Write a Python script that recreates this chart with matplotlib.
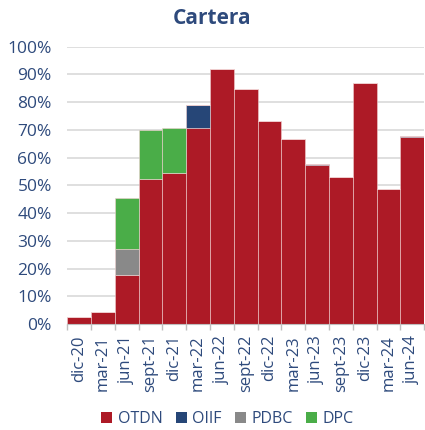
import matplotlib
matplotlib.use("Agg")
import matplotlib.pyplot as plt
import numpy as np
from matplotlib.patches import Patch

categories = ["dic-20", "mar-21", "jun-21", "sept-21", "dic-21", "mar-22", "jun-22",
              "sept-22", "dic-22", "mar-23", "jun-23", "sept-23", "dic-23", "mar-24", "jun-24"]
otdn = [2.5, 4.4, 17.5, 52.3, 54.6, 70.6, 92.1, 84.9, 73.1, 66.6, 57.3, 52.9, 86.8, 48.6, 67.6]
oiif = [0, 0, 0, 0, 0, 8.2, 0, 0, 0, 0, 0.5, 0, 0, 0, 0.2]
pdbc = [0, 0, 9.4, 0, 0, 0, 0, 0, 0, 0, 0, 0, 0, 0, 0]
dpc = [0, 0, 18.4, 17.8, 15.9, 0, 0, 0, 0, 0, 0, 0, 0, 0, 0]

series = [("OTDN", otdn, "#ad1a26"), ("OIIF", oiif, "#264677"),
          ("PDBC", pdbc, "#898989"), ("DPC", dpc, "#4aad48")]

plt.rcParams['font.family'] = ['Open Sans', 'DejaVu Sans']
txt = "#2e4a7c"

fig = plt.figure(figsize=(4.25, 4.3), dpi=100)
ax = fig.add_axes([0.158, 0.2465, 0.84, 0.645])

x = np.arange(len(categories))
bottom = np.zeros(len(categories))
for name, vals, col in series:
    v = np.array(vals, dtype=float)
    ax.bar(x, v, width=1.0, bottom=bottom, color=col, edgecolor="#f0d0d0",
           linewidth=0.4, zorder=3)
    bottom += v

ax.set_xlim(-0.5, len(categories) - 0.5)
ax.set_ylim(0, 100)
ax.set_yticks(np.arange(0, 101, 10))
ax.set_yticklabels([f"{v}%" for v in range(0, 101, 10)], color=txt, fontsize=12.5)
ax.yaxis.grid(True, color="#d9d9d9", linewidth=1.2, zorder=0)
ax.tick_params(axis="y", length=0, pad=11)

ax.set_xticks(x)
ax.set_xticklabels(categories, rotation=90, color=txt, fontsize=12)
ax.set_xticks(np.arange(-0.5, len(categories), 1), minor=True)
ax.tick_params(axis="x", which="major", length=0, pad=8)
ax.tick_params(axis="x", which="minor", length=4, color="#bfbfbf", width=1)

for s in ["top", "right", "left"]:
    ax.spines[s].set_visible(False)
ax.spines["bottom"].set_color("#bfbfbf")
ax.spines["bottom"].set_zorder(4)

fig.text(0.5, 0.957, "Cartera", ha="center", va="center", fontsize=15,
         fontweight="bold", color=txt)

handles = [Patch(facecolor=c, edgecolor="none", label=n) for n, _, c in series]
fig.legend(handles=handles, loc="center", bbox_to_anchor=(0.535, 0.025), ncol=4,
           frameon=False, fontsize=11.5, handlelength=0.7, handleheight=0.7,
           handletextpad=0.35, columnspacing=0.8, labelcolor=txt)

fig.savefig("out.png", dpi=100)
